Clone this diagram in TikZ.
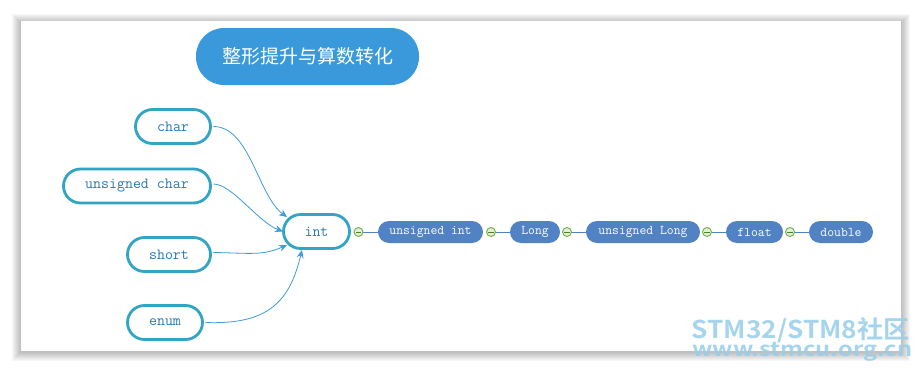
\documentclass[tikz,border=0pt]{standalone}
\usepackage{fontspec}
\usepackage{graphicx}
\newfontfamily\cjk{Noto Sans CJK SC}
\newfontfamily\cjkbold{Noto Sans CJK SC Bold}
\usetikzlibrary{arrows.meta,calc}
\definecolor{titleblue}{RGB}{58,153,218}
\definecolor{teal}{RGB}{50,164,196}
\definecolor{srctext}{RGB}{40,120,180}
\definecolor{chainblue}{RGB}{80,130,196}
\definecolor{linkblue}{RGB}{60,155,220}
\definecolor{foldgreen}{RGB}{110,180,60}
\definecolor{foldfill}{RGB}{228,234,222}
\definecolor{wmblue}{RGB}{150,205,235}
\tikzset{
  srcbox/.style={draw=teal, line width=2.8pt, fill=white, rounded corners=17pt,
    minimum height=34pt, inner sep=0pt, text=srctext,
    font=\ttfamily\fontsize{15.5}{15.5}\selectfont},
  chainbox/.style={fill=chainblue, rounded corners=11pt, minimum height=22pt,
    inner sep=0pt, text=white, font=\ttfamily\fontsize{13.3}{13.3}\selectfont},
  fold/.style={circle, draw=foldgreen, fill=foldfill, line width=0.9pt,
    minimum size=9pt, inner sep=0pt},
  link/.style={draw=linkblue, line width=0.8pt, -{Stealth[length=8pt,width=7pt]}},
  chainlink/.style={draw=chainblue, line width=1pt},
}
\begin{document}
\begin{tikzpicture}[x=1pt,y=-1pt]
\useasboundingbox (0,0) rectangle (922,372);
% shadow
\foreach \i in {1,...,9}{
  \fill[black, opacity=0.03] ($(21,23)+(-\i,-\i)$) rectangle ($(901,352)+(\i,\i)$);
}
\fill[white] (21,21) rectangle (901,351);

% title
\node[fill=titleblue, rounded corners=28pt, minimum width=223pt, minimum height=57pt,
  inner sep=0pt, text=white, font=\cjk\fontsize{19}{19}\selectfont] (title) at (307.5,56.5) {整形提升与算数转化};

% sources
\node[srcbox, minimum width=75pt] (char) at (173,126.5) {char};
\node[srcbox, minimum width=147pt] (uchar) at (137,186) {unsigned char};
\node[srcbox, minimum width=83pt] (short) at (169,254.5) {short};
\node[srcbox, minimum width=75pt] (enum) at (165,322.5) {enum};
\node[srcbox, minimum width=66pt] (int) at (316.5,231.5) {int};

% chain
\node[chainbox, minimum width=105pt] (uint) at (430.5,232) {unsigned int};
\node[chainbox, minimum width=50pt] (long) at (535,232) {Long};
\node[chainbox, minimum width=114pt] (ulong) at (643,232) {unsigned Long};
\node[chainbox, minimum width=57pt] (float) at (754.5,232) {float};
\node[chainbox, minimum width=64pt] (double) at (841,232) {double};

\coordinate (f1) at (358.5,232);
\coordinate (f2) at (491,232);
\coordinate (f3) at (567,232);
\coordinate (f4) at (707,232);
\coordinate (f5) at (790,232);

\draw[chainlink] (f1) -- (uint.west);
\draw[chainlink] (f2) -- (long.west);
\draw[chainlink] (f3) -- (ulong.west);
\draw[chainlink] (f4) -- (float.west);
\draw[chainlink] (f5) -- (double.west);
\foreach \f in {f1,f2,f3,f4,f5}{
  \node[fold] (n\f) at (\f) {};
  \draw[foldgreen!70!black, line width=0.8pt] ($(\f)+(-2.8,0)$) -- ($(\f)+(2.8,0)$);
}

% connectors
\draw[link] ($(char.east)+(1.5,0)$) .. controls (250,126.5) and (258,196) .. ($(int.center)+(-29.5,-14.5)$);
\draw[link] ($(uchar.east)+(1.5,-2)$) .. controls (232,184) and (258,222) .. ($(int.center)+(-33.5,0)$);
\draw[link] ($(short.east)+(1.5,-2)$) .. controls (250,253) and (262,256) .. ($(int.center)+(-29.5,13.5)$);
\draw[link] ($(enum.east)+(1.5,0)$) .. controls (270,325) and (290,300) .. ($(int.center)+(-14.5,18.5)$);

% watermark
\node[anchor=base west, inner sep=0pt, text=wmblue, opacity=0.85,
  font=\cjkbold\fontsize{28}{28}\selectfont] (wm1) at (691.5,338.3) {\resizebox{218pt}{21pt}{STM32/STM8社区}};
\node[anchor=base west, inner sep=0pt, text=wmblue, opacity=0.85,
  font=\cjkbold\fontsize{21.5}{21.5}\selectfont] (wm2) at (692,356) {\resizebox{220pt}{14.3pt}{www.stmcu.org.cn}};
\end{tikzpicture}
\end{document}
